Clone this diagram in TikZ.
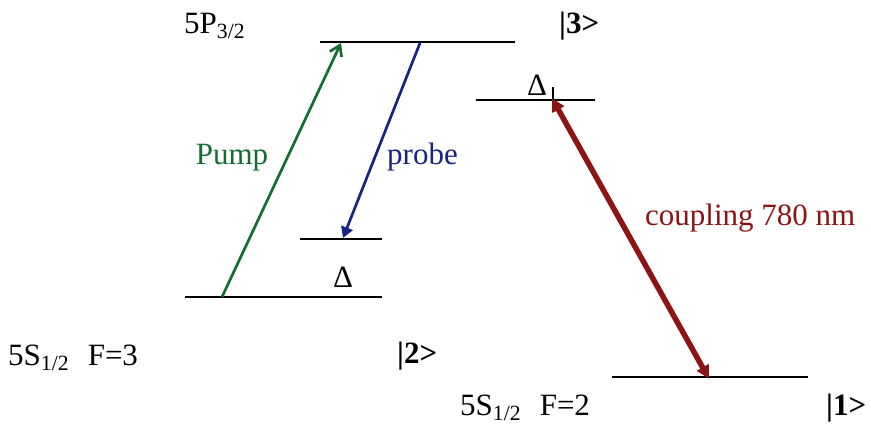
\documentclass[tikz,border=0pt]{standalone}
\usepackage{fontspec}
\setmainfont{Liberation Serif}
\newfontfamily\tmsfont{Liberation Serif}
\usetikzlibrary{arrows.meta}
\definecolor{pumpgreen}{RGB}{20,110,50}
\definecolor{probeblue}{RGB}{25,35,130}
\definecolor{coupred}{RGB}{140,20,20}
\begin{document}
\begin{tikzpicture}[x=1pt,y=-1pt,
  level/.style={line width=2.5pt,black},
  lbl/.style={font=\tmsfont\fontsize{31}{33}\selectfont,inner sep=0pt},
  ket/.style={lbl,font=\tmsfont\fontsize{31}{33}\selectfont\bfseries}]
\useasboundingbox (0,0) rectangle (871,426);
% levels
\coordinate (p3a) at (320,42); \coordinate (p3b) at (515,42);
\coordinate (d1a) at (476,100); \coordinate (d1b) at (595,100);
\coordinate (pra) at (300,239); \coordinate (prb) at (382,239);
\coordinate (f3a) at (185,297); \coordinate (f3b) at (382,297);
\coordinate (f2a) at (612,377); \coordinate (f2b) at (808,377);
\draw[level] (p3a) -- (p3b);
\draw[level] (d1a) -- (d1b);
\draw[level] (pra) -- (prb);
\draw[level] (f3a) -- (f3b);
\draw[level] (f2a) -- (f2b);
% arrow end points
\coordinate (pumpS) at (222,297); \coordinate (pumpE) at (341,43);
\coordinate (probeS) at (420,43); \coordinate (probeE) at (343,238);
\coordinate (cupT) at (553,100); \coordinate (cupB) at (708,377);
\coordinate (tickT) at (553,87);
\draw[line width=1.8pt] (tickT) -- (cupT);
\draw[pumpgreen,line width=2.7pt,-{Straight Barb[length=10pt,width=13pt]}] (pumpS) -- (pumpE);
\draw[probeblue,line width=2.7pt,-{Triangle[length=11pt,width=12pt]}] (probeS) -- (probeE);
\draw[coupred,line width=5.5pt,{Triangle[length=13pt,width=13pt]}-{Triangle[length=13pt,width=13pt]},shorten <=-2pt,shorten >=-2pt] (cupT) -- (cupB);
% labels
\node[lbl,anchor=base west] (l5p) at (184,33) {5P\textsubscript{3/2}};
\node[ket,anchor=base west] (k3) at (559,33) {|3>};
\node[lbl,anchor=base] (dl1) at (537,95) {Δ};
\node[lbl,anchor=base,text=pumpgreen] (pump) at (232,164) {Pump};
\node[lbl,anchor=base west,text=probeblue] (probe) at (387,164) {probe};
\node[lbl,anchor=base west,text=coupred] (coup) at (645,225) {coupling 780 nm};
\node[lbl,anchor=base] (dl) at (343,287) {Δ};
\node[lbl,anchor=base west] (l5s3) at (8,365) {5S\textsubscript{1/2}\hspace{0.6em}F=3};
\node[ket,anchor=base west] (k2) at (397,363) {|2>};
\node[lbl,anchor=base west] (l5s2) at (460,415) {5S\textsubscript{1/2}\hspace{0.6em}F=2};
\node[ket,anchor=base west] (k1) at (826,415) {|1>};
\end{tikzpicture}
\end{document}
